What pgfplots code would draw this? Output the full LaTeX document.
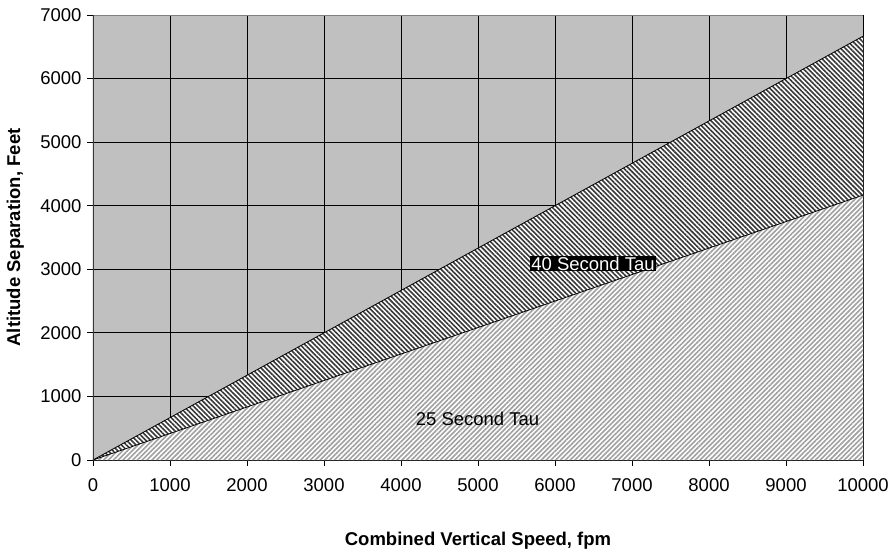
\documentclass[border=0pt]{standalone}
\usepackage{fontspec}
\setmainfont{Liberation Sans}
\usepackage{pgfplots}
\pgfplotsset{compat=1.18}
\usetikzlibrary{patterns.meta}
\definecolor{bggray}{HTML}{C0C0C0}
\definecolor{hatchdark}{HTML}{383838}
\definecolor{hatchlight}{HTML}{A0A0A0}
\definecolor{framegray}{HTML}{808080}

\begin{document}
\begin{tikzpicture}
\path[use as bounding box] (-93pt,-99pt) rectangle (800pt,460pt);
\begin{axis}[
    at={(0,0)}, anchor=south west,
    scale only axis,
    width=770pt, height=445pt,
    xmin=0, xmax=10000,
    ymin=0, ymax=7000,
    xtick={0,1000,...,10000},
    ytick={0,1000,...,7000},
    scaled ticks=false,
    /pgf/number format/1000 sep={},
    /pgf/number format/assume math mode=true,
    font=\fontsize{18.5}{22}\selectfont,
    xticklabel style={yshift=-9pt},
    yticklabel style={xshift=-2pt},
    grid=major,
    major grid style={black, line width=0.8pt},
    axis background/.style={fill=bggray},
    tick align=outside,
    xtick pos=bottom, ytick pos=left,
    major tick length=6pt,
    tick style={black, line width=0.8pt},
    axis line style={black, line width=0.8pt},
    xlabel={\bfseries Combined Vertical Speed, fpm},
    ylabel={\bfseries Altitude Separation, Feet},
    xlabel style={at={(axis description cs:0.5,-0.182)}, anchor=center},
    ylabel style={at={(axis description cs:-0.101,0.5)}, anchor=center},
]

% 40 second band (between the two lines)
\addplot[draw=none, fill=white,
    postaction={pattern={Lines[angle=-45,distance=3.4pt,line width=1.6pt]}, pattern color=hatchdark}]
    coordinates {(0,0) (10000,6666.67) (10000,4166.67)};

% 25 second region (below the lower line)
\addplot[draw=none, fill=white,
    postaction={pattern={Lines[angle=45,distance=3.4pt,line width=1.6pt]}, pattern color=hatchlight}]
    coordinates {(0,0) (10000,4166.67) (10000,0)};

% tau boundaries
\addplot[black, line width=0.8pt] coordinates {(0,0) (10000,6666.67)};
\addplot[black, line width=0.8pt] coordinates {(0,0) (10000,4166.67)};

\node[fill=black, text=white, inner sep=1pt] at (axis cs:6494,3091) {40 Second Tau};
\node[text=black] at (axis cs:4994,653) {25 Second Tau};

\draw[framegray, line width=0.8pt] (rel axis cs:0,1) -- (rel axis cs:1,1);
\draw[hatchdark, line width=1.5pt] (rel axis cs:0,0) -- (rel axis cs:0,1);
\end{axis}
\end{tikzpicture}
\end{document}
